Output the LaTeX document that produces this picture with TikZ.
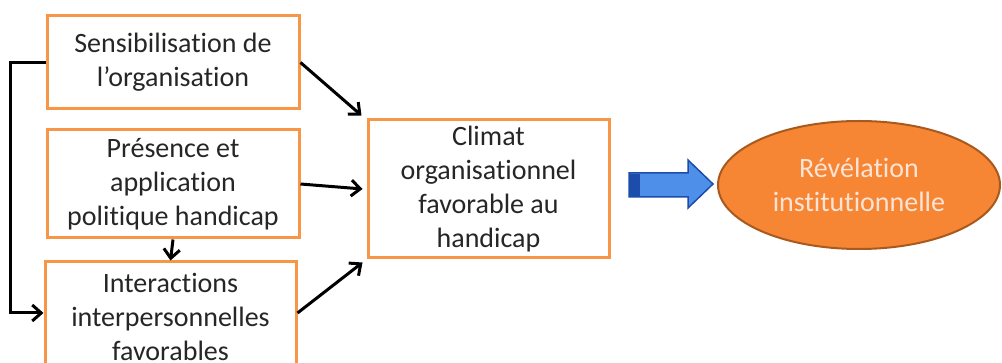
\documentclass[tikz,border=0pt]{standalone}
\usepackage{fontspec}
\setmainfont[Ligatures=NoCommon]{Carlito}
\usetikzlibrary{arrows.meta,shapes.geometric}
\definecolor{boxorange}{HTML}{F79646}
\definecolor{ellfill}{HTML}{F68634}
\definecolor{elldraw}{HTML}{A85A1E}
\definecolor{elltext}{HTML}{FDE4D6}
\definecolor{bluefill}{HTML}{4D8FE9}
\definecolor{bluedraw}{HTML}{1C4DAA}
\tikzset{
  obox/.style={draw=boxorange, line width=3pt, fill=white, align=center, inner sep=0pt,
    text=black!85, font=\fontsize{28}{34}\selectfont},
  conn/.style={black, line width=3pt, -{Straight Barb[length=9pt,width=16pt,line width=3pt]}},
  elln/.style={ellipse, draw=elldraw, line width=2pt, fill=ellfill, text=elltext, align=center,
    inner sep=0pt, font=\fontsize{28}{34}\selectfont}
}
\begin{document}
\begin{tikzpicture}[x=1pt,y=1pt]
\useasboundingbox (0,0) rectangle (1002,-363);
\clip (0,0) rectangle (1002,-363);
\node[obox, minimum width=252, minimum height=93] (b1) at (173,-62.5) {Sensibilisation de\\l’organisation};
\node[obox, minimum width=252, minimum height=108] (b2) at (173,-184) {Présence et\\application\\politique handicap};
\node[obox, minimum width=251, minimum height=110] (b3) at (170.5,-317) {Interactions\\interpersonnelles\\favorables};
\node[obox, minimum width=241, minimum height=138] (c) at (488.5,-189) {Climat\\organisationnel\\favorable au\\handicap};
\node[elln, minimum width=282, minimum height=128] (r) at (859,-185) {Révélation\\institutionnelle};
% blue block arrow
\fill[bluefill, draw=bluedraw, line width=1.5pt]
  (629,-173) -- (688,-173) -- (688,-160) -- (713,-184) -- (688,-208) -- (688,-197) -- (629,-197) -- cycle;
\fill[bluedraw] (629.75,-173.75) rectangle (640,-196.25);
% connectors
\draw[conn] (b1.east) -- ([shift={(-5,3)}]c.north west);
\draw[conn] (b2.east) -- ([xshift=-4pt]c.west);
\draw[conn] ([yshift=4pt]b3.east) -- ([shift={(-4,-3)}]c.south west);
\draw[conn] (b2.south) -- (b3.north);
\draw[line width=3pt, -{Straight Barb[length=9pt,width=16pt,line width=3pt]}] (b1.west) -- ++(-35,0) |- ([yshift=4pt]b3.west);
\end{tikzpicture}
\end{document}
